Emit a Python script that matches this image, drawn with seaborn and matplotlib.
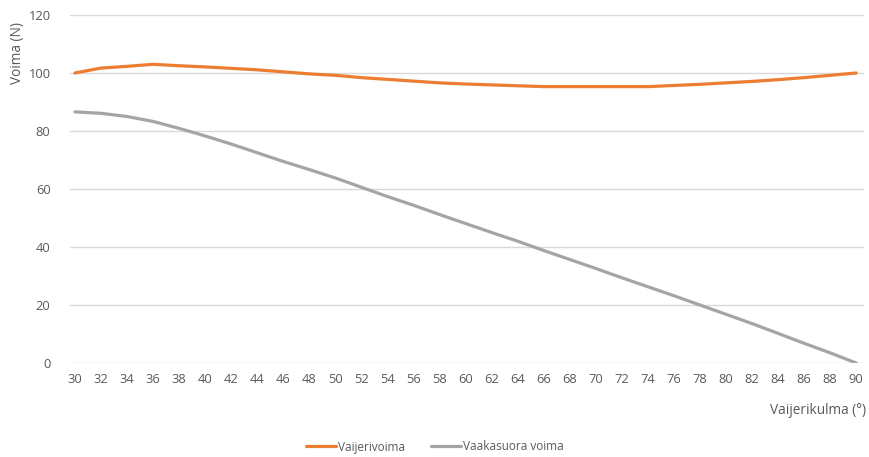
import matplotlib
matplotlib.use("Agg")
import matplotlib.pyplot as plt
import seaborn as sns
import pandas as pd

# Cable angle (degrees) and measured forces (N)
angles = [30, 32, 34, 36, 38, 40, 42, 44, 46, 48, 50, 52, 54, 56, 58, 60,
          62, 64, 66, 68, 70, 72, 74, 76, 78, 80, 82, 84, 86, 88, 90]
cable_force = [100.0, 101.7, 102.3, 103.0, 102.5, 102.1, 101.6, 101.1, 100.4, 99.7,
               99.2, 98.4, 97.8, 97.2, 96.6, 96.2, 95.9, 95.6, 95.3, 95.3, 95.3,
               95.3, 95.3, 95.7, 96.1, 96.6, 97.1, 97.7, 98.4, 99.2, 100.0]
horizontal_force = [86.6, 86.1, 85.0, 83.3, 80.9, 78.3, 75.5, 72.5, 69.5, 66.7,
                    63.8, 60.6, 57.4, 54.4, 51.2, 48.1, 45.0, 42.0, 38.8, 35.7,
                    32.6, 29.4, 26.3, 23.2, 20.0, 16.8, 13.6, 10.2, 6.8, 3.5, 0.0]
series_names = ["Vaijerivoima", "Vaakasuora voima"]
series_colors = ["#ED7D31", "#A5A5A5"]
y_ticks = [0, 20, 40, 60, 80, 100, 120]

df = pd.concat([
    pd.DataFrame({"angle": angles, "force": cable_force, "series": series_names[0]}),
    pd.DataFrame({"angle": angles, "force": horizontal_force, "series": series_names[1]}),
])

sns.set_theme(style="white")
plt.rcParams["font.family"] = ["Open Sans", "DejaVu Sans"]
text_color = "#595959"

fig = plt.figure(figsize=(8.69, 4.57), dpi=100)
ax = fig.add_axes([70 / 869, 1 - 363 / 457, 794 / 869, 348 / 457])

sns.lineplot(data=df, x="angle", y="force", hue="series",
             palette=dict(zip(series_names, series_colors)),
             linewidth=2.3, ax=ax, legend=False)

ax.set_xlim(29.62, 90.6)
ax.set_ylim(0, 120)
ax.set_yticks(y_ticks)
ax.set_xticks(angles)
ax.grid(axis="y", color="#D9D9D9", linewidth=1)
ax.set_axisbelow(True)
for s in ax.spines.values():
    s.set_visible(False)
ax.tick_params(axis="both", length=0, colors=text_color, labelsize=9.3)
ax.tick_params(axis="x", pad=7)
ax.tick_params(axis="y", pad=14)
ax.set_xlabel("")
ax.set_ylabel("")

fig.text(18 / 869, 1 - 53 / 457, "Voima (N)", rotation=90, ha="center", va="center",
         color=text_color, fontsize=9.8)
fig.text(866 / 869, 1 - 410 / 457, "Vaijerikulma (°)", ha="right", va="center",
         color=text_color, fontsize=9.8)

handles = [plt.Line2D([], [], color=c, linewidth=2.3) for c in series_colors]
fig.legend(handles, series_names, loc="center", bbox_to_anchor=(0.5, 1 - 447 / 457),
           ncol=2, frameon=False, fontsize=8.5, handlelength=2.6, handletextpad=0.1,
           columnspacing=2.2, labelcolor=text_color)

fig.savefig("out.png", dpi=100)
